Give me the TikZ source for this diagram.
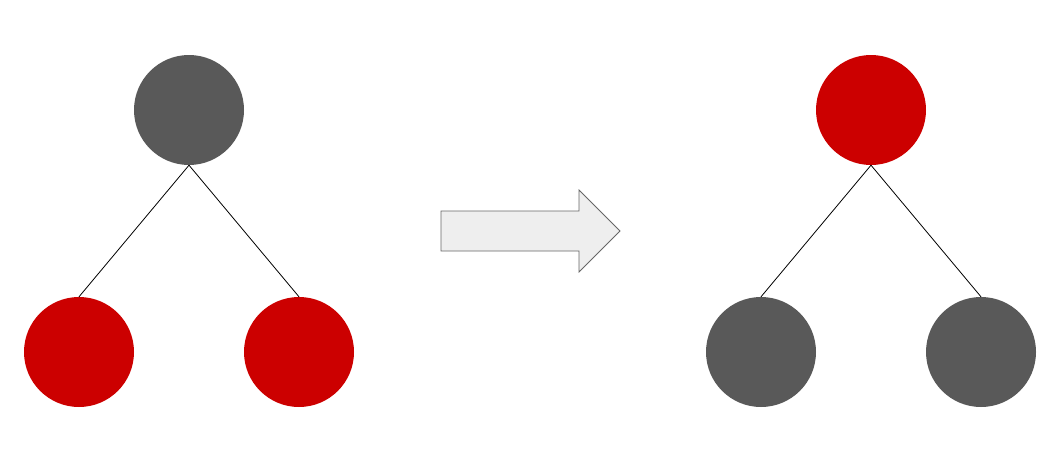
\documentclass[tikz,border=0pt]{standalone}
\definecolor{darkg}{HTML}{595959}
\definecolor{redc}{HTML}{CC0000}
\definecolor{arrfill}{HTML}{EEEEEE}
\definecolor{arrdraw}{HTML}{666666}
\tikzset{
  treenode/.style={circle, minimum size=110pt, inner sep=0pt, draw=none},
  dk/.style={treenode, fill=darkg},
  rd/.style={treenode, fill=redc},
  edge/.style={draw=black, line width=0.8pt}
}
\begin{document}
\begin{tikzpicture}[x=1pt,y=-1pt]
\useasboundingbox (0,0) rectangle (1060,455);
% left tree
\node[dk] (t1) at (189,110) {};
\node[rd] (l1) at (79,352) {};
\node[rd] (r1) at (299,352) {};
\draw[edge] (t1.south) -- (l1.north);
\draw[edge] (t1.south) -- (r1.north);
% right tree
\node[rd] (t2) at (871,110) {};
\node[dk] (l2) at (761,352) {};
\node[dk] (r2) at (981,352) {};
\draw[edge] (t2.south) -- (l2.north);
\draw[edge] (t2.south) -- (r2.north);
% arrow
\draw[fill=arrfill, draw=arrdraw, line width=0.8pt]
  (441,211) -- (579,211) -- (579,190) -- (620,231) -- (579,272) -- (579,251) -- (441,251) -- cycle;
\end{tikzpicture}
\end{document}
